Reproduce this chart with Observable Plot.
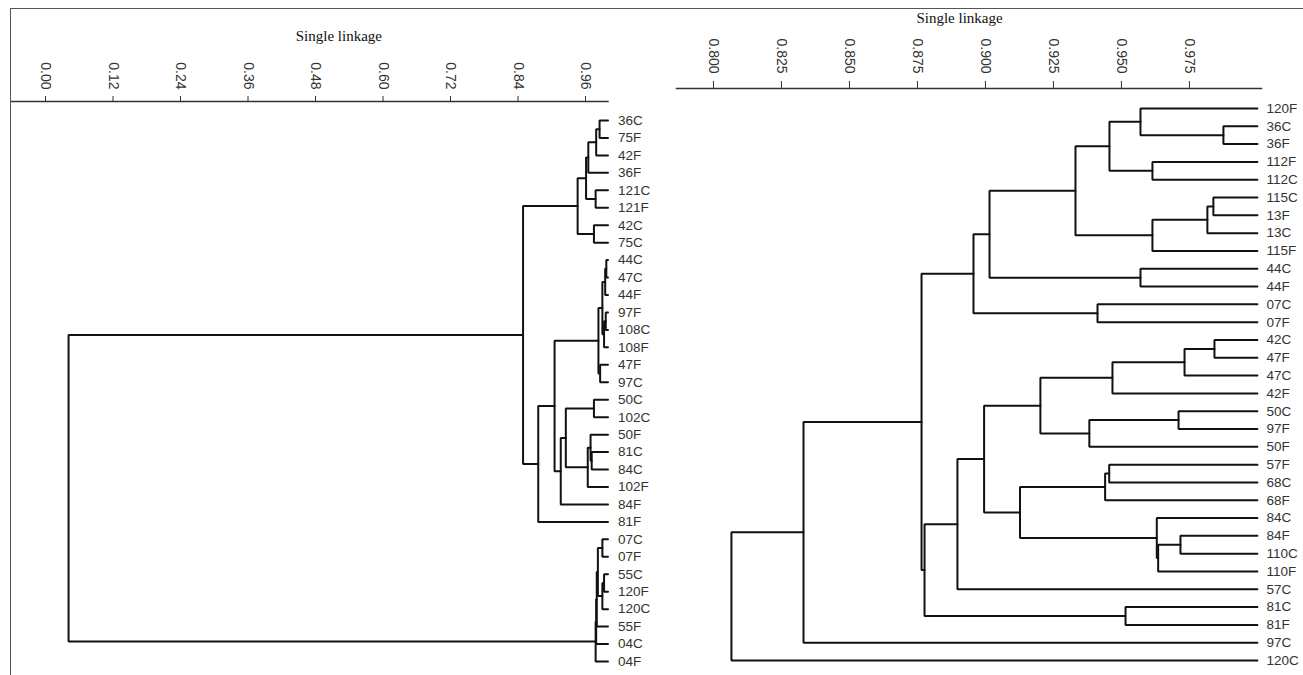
<!DOCTYPE html>
<html>
<head>
<meta charset="utf-8">
<script src="https://cdn.jsdelivr.net/npm/d3@7"></script>
<script src="https://cdn.jsdelivr.net/npm/@observablehq/plot@0.6"></script>
<style>
  body { margin: 0; background: #fff; }
  #fig { position: relative; width: 1303px; height: 675px; display: flex; overflow: hidden; background: #fff; }
  #fig svg { flex: none; }
  #border { position: absolute; left: 10px; top: 8px; right: -10px; bottom: -10px;
            border-top: 1.5px solid #555; border-left: 1.5px solid #555; pointer-events: none; }
</style>
</head>
<body>
<div id="fig"><div id="border"></div></div>
<script>
// Left tree: leaf order top to bottom
const leftLeaves = ["36C", "75F", "42F", "36F", "121C", "121F", "42C", "75C",
  "44C", "47C", "44F", "97F", "108C", "108F", "47F", "97C",
  "50C", "102C", "50F", "81C", "84C", "102F", "84F", "81F",
  "07C", "07F", "55C", "120F", "120C", "55F", "04C", "04F"];

// Left tree merges: [node, child A, child B, similarity]
const leftMerges = [
  ["a1", "36C", "75F", 0.985],
  ["a2", "a1", "42F", 0.979],
  ["a3", "a2", "36F", 0.965],
  ["a4", "121C", "121F", 0.978],
  ["a5", "a3", "a4", 0.961],
  ["a6", "42C", "75C", 0.975],
  ["a7", "a5", "a6", 0.946],
  ["b1", "44C", "47C", 0.997],
  ["b2", "b1", "44F", 0.995],
  ["b3", "97F", "108C", 0.996],
  ["b4", "b3", "108F", 0.993],
  ["b5", "b2", "b4", 0.990],
  ["b6", "47F", "97C", 0.986],
  ["b7", "b5", "b6", 0.983],
  ["b8", "50C", "102C", 0.975],
  ["b9", "81C", "84C", 0.971],
  ["b10", "50F", "b9", 0.969],
  ["b11", "b10", "102F", 0.964],
  ["b12", "b8", "b11", 0.925],
  ["b13", "b12", "84F", 0.916],
  ["b14", "b7", "b13", 0.905],
  ["b15", "b14", "81F", 0.876],
  ["c1", "a7", "b15", 0.849],
  ["d1", "07C", "07F", 0.990],
  ["d2", "55C", "120F", 0.993],
  ["d3", "d2", "120C", 0.990],
  ["d4", "d1", "d3", 0.982],
  ["d5", "d4", "55F", 0.980],
  ["d6", "d5", "04C", 0.979],
  ["d7", "d6", "04F", 0.978],
  ["root", "c1", "d7", 0.041]
];
const leftTicks = [0, 0.12, 0.24, 0.36, 0.48, 0.60, 0.72, 0.84, 0.96];

// Right tree: leaf order top to bottom
const rightLeaves = ["120F", "36C", "36F", "112F", "112C", "115C", "13F", "13C", "115F",
  "44C", "44F", "07C", "07F", "42C", "47F", "47C", "42F", "50C", "97F", "50F",
  "57F", "68C", "68F", "84C", "84F", "110C", "110F", "57C", "81C", "81F", "97C", "120C"];

// Right tree merges: [node, child A, child B, similarity]
const rightMerges = [
  ["r0", "36C", "36F", 0.9875],
  ["r1", "120F", "r0", 0.957],
  ["r2", "112F", "112C", 0.9614],
  ["r3", "r1", "r2", 0.9456],
  ["r4", "115C", "13F", 0.9838],
  ["r5", "r4", "13C", 0.9816],
  ["r6", "r5", "115F", 0.9614],
  ["r7", "r3", "r6", 0.9331],
  ["r8", "44C", "44F", 0.957],
  ["r9", "r7", "r8", 0.9015],
  ["r10", "07C", "07F", 0.9412],
  ["r11", "r9", "r10", 0.8956],
  ["s1", "42C", "47F", 0.9842],
  ["s2", "s1", "47C", 0.9732],
  ["s3", "s2", "42F", 0.9467],
  ["s4", "50C", "97F", 0.971],
  ["s5", "s4", "50F", 0.9382],
  ["s6", "s3", "s5", 0.9202],
  ["s7", "57F", "68C", 0.9455],
  ["s8", "s7", "68F", 0.944],
  ["s9", "84F", "110C", 0.9717],
  ["s10", "s9", "110F", 0.9635],
  ["s11", "84C", "s10", 0.963],
  ["s12", "s8", "s11", 0.9127],
  ["s13", "s6", "s12", 0.8995],
  ["s14", "s13", "57C", 0.8897],
  ["s15", "81C", "81F", 0.9515],
  ["s16", "s14", "s15", 0.8776],
  ["s17", "r11", "s16", 0.8765],
  ["s18", "s17", "97C", 0.8331],
  ["root", "s18", "120C", 0.8066]
];
const rightTicks = [0.800, 0.825, 0.850, 0.875, 0.900, 0.925, 0.950, 0.975];

const titleText = "Single linkage";

// Turn merges into elbow paths: leaves sit at similarity 1, each node at the
// mean row of its two children.
function elbows(leaves, merges) {
  const pos = new Map(leaves.map((name, i) => [name, {x: 1, y: i}]));
  const pts = [];
  for (const [id, a, b, h] of merges) {
    const A = pos.get(a), B = pos.get(b);
    pts.push({id, x: A.x, y: A.y}, {id, x: h, y: A.y}, {id, x: h, y: B.y}, {id, x: B.x, y: B.y});
    pos.set(id, {x: h, y: (A.y + B.y) / 2});
  }
  return pts;
}

function dendrogram(o) {
  const leafRows = o.leaves.map((name, i) => ({name, x: 1, y: i}));
  return Plot.plot({
    width: o.width,
    height: 675,
    marginLeft: o.marginLeft,
    marginRight: o.marginRight,
    marginTop: o.marginTop,
    marginBottom: o.marginBottom,
    style: {fontFamily: "'Liberation Sans', Arial, sans-serif", fontSize: "14px", color: "#333", background: "transparent", overflow: "visible"},
    x: {domain: o.domain, axis: "top", ticks: o.ticks, tickFormat: d3.format(o.format),
        tickRotate: 90, tickSize: o.tickSize, tickPadding: o.tickPadding, label: null},
    y: {domain: [0, o.leaves.length - 1], reverse: true, axis: null, insetTop: o.insetTop},
    marks: [
      Plot.frame({anchor: "top", stroke: "#333", strokeWidth: 1.5}),
      Plot.line(elbows(o.leaves, o.merges), {x: "x", y: "y", z: "id", stroke: "#111", strokeWidth: 2, strokeLinejoin: "miter", curve: "linear"}),
      Plot.text(leafRows, {x: "x", y: "y", text: "name", textAnchor: "start", dx: o.labelDx, fontSize: 13.5, fill: "#333"}),
      Plot.text([titleText], {frameAnchor: "top", lineAnchor: "middle", dx: o.titleDx, dy: o.titleDy, fontFamily: "'Liberation Serif', 'Times New Roman', serif", fontSize: 15, fill: "#111"})
    ]
  });
}

const fig = document.getElementById("fig");
fig.prepend(dendrogram({
  leaves: leftLeaves, merges: leftMerges, ticks: leftTicks, format: ".2f",
  domain: [-0.06, 1.0], width: 660, marginLeft: 11.25, marginRight: 52.5,
  marginTop: 101, insetTop: 19, marginBottom: 14, tickSize: 6, tickPadding: 6,
  titleDx: 29, titleDy: -65, labelDx: 10
}));
fig.insertBefore(dendrogram({
  leaves: rightLeaves, merges: rightMerges, ticks: rightTicks, format: ".3f",
  domain: [0.7864, 1.0015], width: 643, marginLeft: 16, marginRight: 42,
  marginTop: 88, insetTop: 20, marginBottom: 15, tickSize: 8, tickPadding: 7,
  titleDx: -9.5, titleDy: -70, labelDx: 9
}), document.getElementById("border"));
</script>
</body>
</html>
